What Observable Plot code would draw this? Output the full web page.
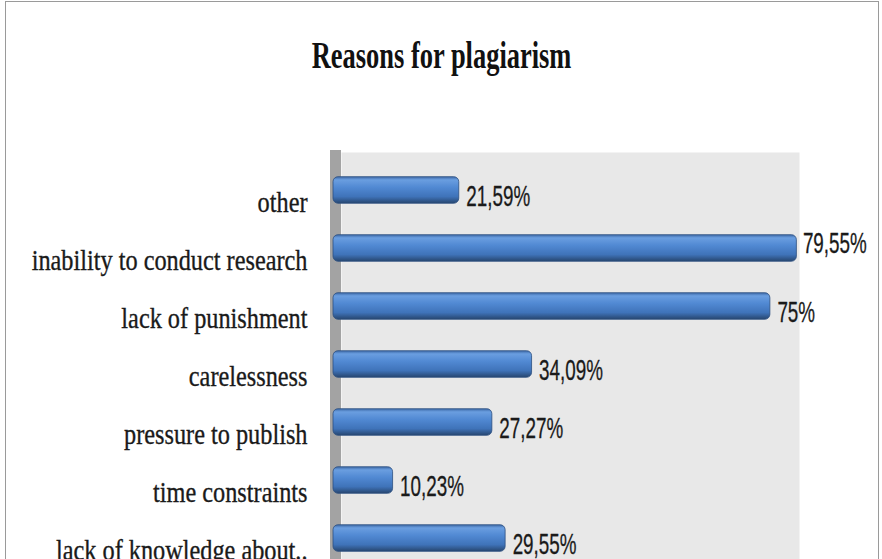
<!DOCTYPE html>
<html>
<head>
<meta charset="utf-8">
<script src="https://cdn.jsdelivr.net/npm/d3@7"></script>
<script src="https://cdn.jsdelivr.net/npm/@observablehq/plot@0.6"></script>
<style>
html, body { margin: 0; padding: 0; overflow: hidden; background: #fff; width: 882px; height: 559px; }
#chart { position: absolute; left: 5px; top: 1px; width: 874px; height: 640px; border: 1.5px solid #9a9a9a; box-sizing: border-box; background: #fff; }
#title { height: 108px; padding-top: 35px; box-sizing: border-box; text-align: center; line-height: 1; }
#title span { font-family: "Liberation Serif", "DejaVu Serif", serif; font-weight: bold; font-size: 37px; color: #111; display: inline-block; transform: scaleX(0.715); transform-origin: center; white-space: nowrap; }
#plot svg { display: block; }
</style>
</head>
<body>
<div id="chart">
  <div id="title"><span>Reasons for plagiarism</span></div>
  <div id="plot"></div>
</div>
<script>
const reasons = [
  "other",
  "inability to conduct research",
  "lack of punishment",
  "carelessness",
  "pressure to publish",
  "time constraints",
  "lack of knowledge about.."
];
const values = [21.59, 79.55, 75, 34.09, 27.27, 10.23, 29.55];
const valueLabels = ["21,59%", "79,55%", "75%", "34,09%", "27,27%", "10,23%", "29,55%"];

const data = reasons.map((r, i) => ({reason: r, value: values[i], label: valueLabels[i]}));

const valueFont = "'Liberation Sans', Arial, sans-serif";
const labelFont = "'Liberation Serif', 'DejaVu Serif', serif";

const plot = Plot.plot({
  width: 871,
  height: 466,
  marginTop: 42,
  marginBottom: 0,
  marginLeft: 327,
  marginRight: 78,
  x: {domain: [0, 80], axis: null},
  y: {domain: reasons, paddingInner: 0.542, paddingOuter: 0.4255, round: false, label: null},
  style: {background: "transparent", overflow: "visible"},
  marks: [
    Plot.frame({fill: "#e8e8e8", stroke: null, insetLeft: 8}),
    Plot.ruleX([0], {stroke: "#a3a3a3", strokeWidth: 11, dx: 2, insetTop: -2}),
    Plot.barX(data, {x: "value", y: "reason", fill: "url(#barGrad)", stroke: "#2c4f80", strokeWidth: 0.8, rx: 5}),
    Plot.text(data, {filter: d => d.value < 79, x: "value", y: "reason", text: "label", textAnchor: "start", dx: 7, dy: 6,
      fontSize: 29, fontFamily: valueFont, fill: "#1a1a1a", stroke: "#1a1a1a", strokeWidth: 0.3}),
    Plot.text(data, {filter: d => d.value >= 79, x: "value", y: "reason", text: "label", textAnchor: "start", dx: 6, dy: -5,
      fontSize: 29, fontFamily: valueFont, fill: "#1a1a1a", stroke: "#1a1a1a", strokeWidth: 0.3}),
    Plot.axisY({tickSize: 0, tickPadding: 26, dy: 12, fontSize: 30, fontFamily: labelFont, fill: "#1a1a1a"})
  ]
});

const svg = d3.select(plot);
const defs = svg.insert("defs", ":first-child");
const g = defs.append("linearGradient").attr("id", "barGrad").attr("x1", 0).attr("y1", 0).attr("x2", 0).attr("y2", 1);
[["0%", "#3c68a6"], ["12%", "#6a9ee0"], ["40%", "#5189d3"], ["75%", "#3f73b9"], ["100%", "#27466f"]]
  .forEach(([o, c]) => g.append("stop").attr("offset", o).attr("stop-color", c));

// condense text horizontally (the reference uses narrow, stretched glyphs)
function squeezeEl(el, s) {
  const t = el.getAttribute("transform");
  if (t) el.setAttribute("transform", t + ` scale(${s},1)`);
  else {
    const x = +el.getAttribute("x") || 0;
    el.setAttribute("transform", `translate(${x},0) scale(${s},1) translate(${-x},0)`);
  }
}
svg.selectAll("text").each(function() {
  const s = this.textContent;
  if (valueLabels.includes(s)) squeezeEl(this, 0.65);
  else if (reasons.includes(s)) { squeezeEl(this, 0.81); this.setAttribute("stroke", "#1a1a1a"); this.setAttribute("stroke-width", "0.35"); }
});

document.getElementById("plot").appendChild(plot);
</script>
</body>
</html>
